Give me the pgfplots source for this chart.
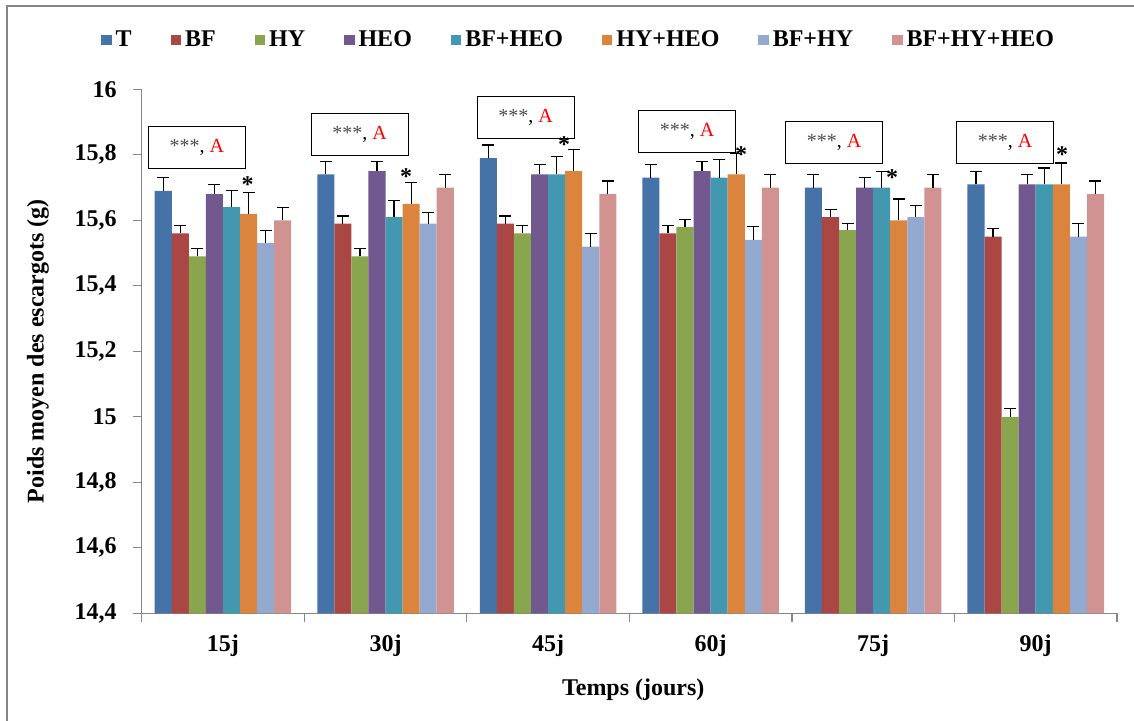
\documentclass[border=0pt,12pt]{standalone}
\usepackage{fontspec}
\setmainfont{Liberation Serif}
\usepackage{pgfplots}
\pgfplotsset{compat=1.18}
\usepackage{pgfplotstable}

\definecolor{cT}{RGB}{69,114,167}
\definecolor{cBF}{RGB}{170,70,67}
\definecolor{cHY}{RGB}{137,165,78}
\definecolor{cHEO}{RGB}{113,88,143}
\definecolor{cBFHEO}{RGB}{65,152,175}
\definecolor{cHYHEO}{RGB}{219,132,61}
\definecolor{cBFHY}{RGB}{147,169,207}
\definecolor{cBFHYHEO}{RGB}{209,147,146}
\definecolor{axgray}{RGB}{134,134,134}

\pgfplotstableread{
x T eT BF eBF HY eHY HEO eHEO BFHEO eBFHEO HYHEO eHYHEO BFHY eBFHY BFHYHEO eBFHYHEO
0 15.69 0.04 15.56 0.025 15.49 0.025 15.68 0.03 15.64 0.05 15.62 0.065 15.53 0.04 15.60 0.04
1 15.74 0.04 15.59 0.023 15.49 0.025 15.75 0.03 15.61 0.05 15.65 0.065 15.59 0.035 15.70 0.04
2 15.79 0.04 15.59 0.023 15.56 0.025 15.74 0.03 15.74 0.055 15.75 0.065 15.52 0.04 15.68 0.04
3 15.73 0.04 15.56 0.025 15.58 0.023 15.75 0.03 15.73 0.055 15.74 0.065 15.54 0.04 15.70 0.04
4 15.70 0.04 15.61 0.023 15.57 0.021 15.70 0.03 15.70 0.05 15.60 0.065 15.61 0.035 15.70 0.04
5 15.71 0.04 15.55 0.025 15.00 0.025 15.71 0.03 15.71 0.05 15.71 0.065 15.55 0.04 15.68 0.04
}\data

\pgfplotsset{
  mybar/.style={ybar, bar width=0.105, bar shift=0, fill=#1, draw=none,
    legend image code/.code={\fill[##1] (0pt,-2.6pt) rectangle (5.2pt,2.6pt);},
    error bars/.cd, y dir=plus, y explicit,
    error bar style={black, line width=0.6pt},
    error mark options={rotate=90, black, draw=black, mark size=3pt, line width=0.6pt}},
}

\begin{document}
\begin{tikzpicture}
\begin{axis}[
  at={(0,0)}, anchor=south west,
  width=487.65pt, height=262pt, scale only axis,
  xmin=-0.5, xmax=5.5, ymin=14.4, ymax=16,
  clip=false,
  axis x line*=bottom, axis y line*=left,
  axis line style={draw=axgray, line width=0.6pt},
  tick align=outside,
  tick style={draw=axgray, line width=0.6pt},
  major tick length=4.3pt,
  xtick={-0.5,0.5,1.5,2.5,3.5,4.5,5.5},
  x tick label as interval,
  xticklabels={15j,30j,45j,60j,75j,90j},
  ytick={14.4,14.6,14.8,15,15.2,15.4,15.6,15.8,16},
  /pgf/number format/.cd, fixed, precision=1, use comma, assume math mode=true,
  /pgfplots/.cd,
  tick label style={font=\bfseries},
  yticklabel style={xshift=-4pt},
  xticklabel style={yshift=-2.5pt},
  xlabel={Temps (jours)},
  ylabel={Poids moyen des escargots (g)},
  xlabel style={at={(axis description cs:0.504,-0.1464)}, anchor=center, font=\bfseries},
  ylabel style={at={(axis description cs:-0.1063,0.5)}, anchor=center, font=\bfseries},
  legend style={at={(axis description cs:0.449,1.094)}, anchor=center, draw=none, fill=none,
    font=\bfseries, legend columns=8,
    /tikz/every even column/.append style={column sep=17.5pt}},
]
\addplot[mybar=cT] table[x expr=\thisrow{x}-0.3675,y=T,y error=eT]{\data};
\addplot[mybar=cBF] table[x expr=\thisrow{x}-0.2625,y=BF,y error=eBF]{\data};
\addplot[mybar=cHY] table[x expr=\thisrow{x}-0.1575,y=HY,y error=eHY]{\data};
\addplot[mybar=cHEO] table[x expr=\thisrow{x}-0.0525,y=HEO,y error=eHEO]{\data};
\addplot[mybar=cBFHEO] table[x expr=\thisrow{x}+0.0525,y=BFHEO,y error=eBFHEO]{\data};
\addplot[mybar=cHYHEO] table[x expr=\thisrow{x}+0.1575,y=HYHEO,y error=eHYHEO]{\data};
\addplot[mybar=cBFHY] table[x expr=\thisrow{x}+0.2625,y=BFHY,y error=eBFHY]{\data};
\addplot[mybar=cBFHYHEO] table[x expr=\thisrow{x}+0.3675,y=BFHYHEO,y error=eBFHYHEO]{\data};
\legend{T,BF,HY,HEO,BF+HEO,HY+HEO,BF+HY,BF+HY+HEO}

\tikzset{anno/.style={draw=black, line width=0.5pt, fill=white, minimum width=48.5pt, minimum height=21pt, inner sep=0pt, font=\fontsize{10}{12}\selectfont}}
\node[anno] at (axis cs:-0.16,15.822) {{\color{black!70}***}, {\color{red}A}};
\node[anno] at (axis cs:0.84,15.8635) {{\color{black!70}***}, {\color{red}A}};
\node[anno] at (axis cs:1.862,15.915) {{\color{black!70}***}, {\color{red}A}};
\node[anno] at (axis cs:2.855,15.870) {{\color{black!70}***}, {\color{red}A}};
\node[anno] at (axis cs:3.76,15.839) {{\color{black!70}***}, {\color{red}A}};
\node[anno] at (axis cs:4.812,15.839) {{\color{black!70}***}, {\color{red}A}};

\tikzset{star/.style={inner sep=0pt, font=\bfseries}}
\node[star] at (axis cs:0.152,15.709) {*};
\node[star] at (axis cs:1.126,15.732) {*};
\node[star] at (axis cs:2.098,15.831) {*};
\node[star] at (axis cs:3.188,15.800) {*};
\node[star] at (axis cs:4.117,15.729) {*};
\node[star] at (axis cs:5.163,15.800) {*};
\end{axis}
\draw[axgray, line width=1pt] (-67.35pt,-60pt) rectangle (500pt,303.65pt);
\pgfresetboundingbox
\useasboundingbox (-70.85pt,-53.35pt) rectangle (496.15pt,306.65pt);
\end{tikzpicture}
\end{document}
